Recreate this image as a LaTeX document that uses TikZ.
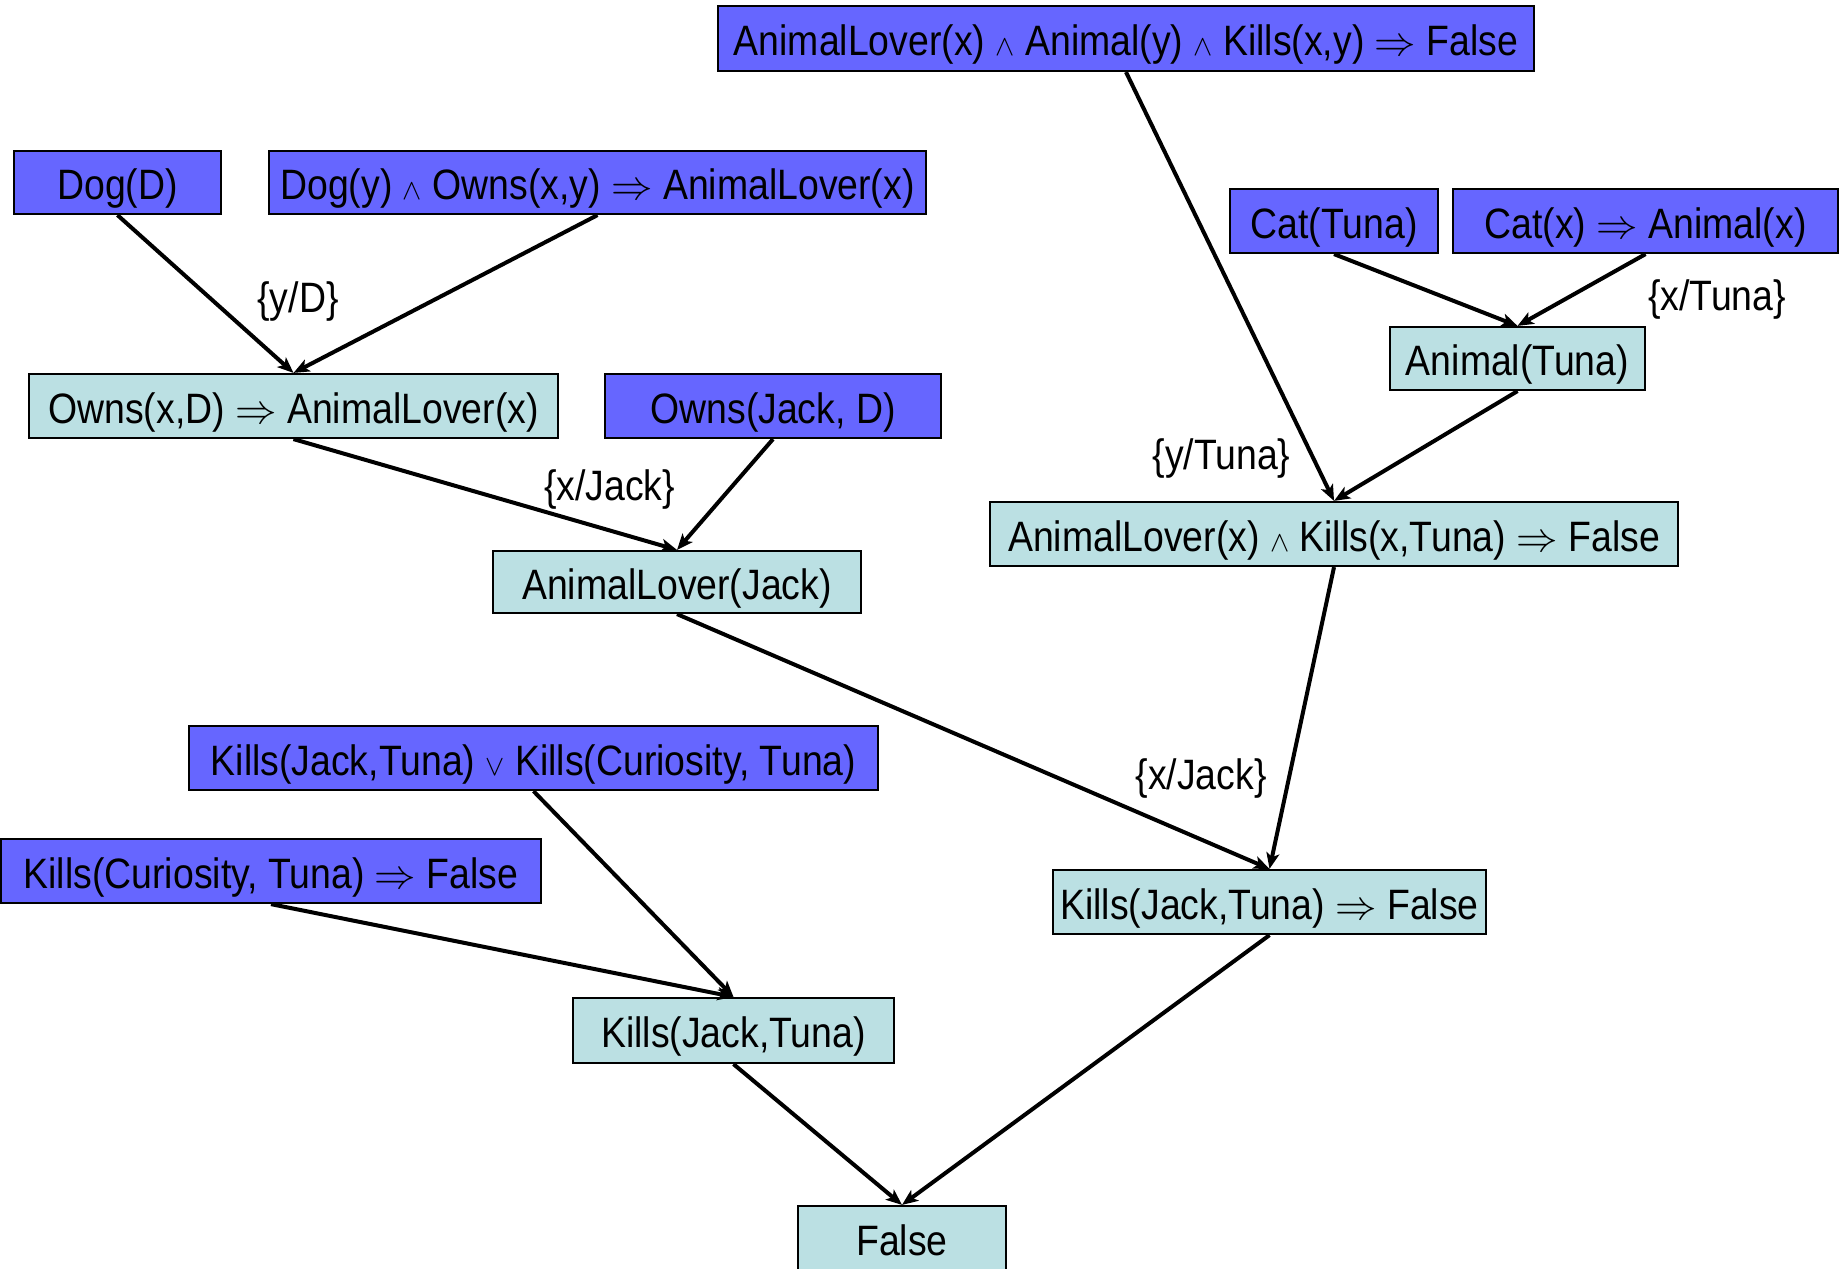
\documentclass[tikz,border=0pt]{standalone}
\usepackage{fontspec}
\setmainfont{Liberation Sans}[FakeStretch=0.88]
\usetikzlibrary{arrows.meta}
\definecolor{premise}{RGB}{102,102,255}
\definecolor{derived}{RGB}{187,224,227}
\newcommand{\lgand}{$\scriptstyle\wedge$}
\newcommand{\lgor}{$\scriptstyle\vee$}
\newcommand{\lgimp}{$\Rightarrow$}
\begin{document}
\begin{tikzpicture}[x=0.5pt,y=-0.5pt,
  txt/.style={font=\fontsize{21.25pt}{25pt}\selectfont},
  box/.style={txt, draw=black, line width=1.1pt, inner sep=0pt, text height=17pt, text depth=0pt},
  sz/.style 2 args={minimum width=#1*0.5pt, minimum height=#2*0.5pt},
  prem/.style={box, fill=premise},
  deriv/.style={box, fill=derived},
  lbl/.style={txt, inner sep=0pt},
  arr/.style={-{Stealth[length=8pt,width=6.5pt,inset=2pt]}, line width=2pt}]
\useasboundingbox (0,0) rectangle (1845,1268);
% premises
\node[prem, sz={816}{65}] (top) at (1126,38.5) {AnimalLover(x) \lgand\ Animal(y) \lgand\ Kills(x,y) \lgimp\ False};
\node[prem, sz={207}{63}] (dog) at (117.5,182.5) {Dog(D)};
\node[prem, sz={657}{63}] (dogrule) at (597.5,182.5) {Dog(y) \lgand\ Owns(x,y) \lgimp\ AnimalLover(x)};
\node[prem, sz={208}{64}] (cat) at (1334,221) {Cat(Tuna)};
\node[prem, sz={385}{64}] (catrule) at (1645.5,221) {Cat(x) \lgimp\ Animal(x)};
\node[prem, sz={336}{64}] (owns) at (773,406) {Owns(Jack, D)};
\node[prem, sz={689}{64}] (killsor) at (533.5,758) {Kills(Jack,Tuna) \lgor\ Kills(Curiosity, Tuna)};
\node[prem, sz={540}{64}] (kcur) at (271,871) {Kills(Curiosity, Tuna) \lgimp\ False};
% derived
\node[deriv, sz={255}{63}] (animal) at (1517.5,358.5) {Animal(Tuna)};
\node[deriv, sz={529}{64}] (ownsrule) at (293.5,406) {Owns(x,D) \lgimp\ AnimalLover(x)};
\node[deriv, sz={688}{64}] (alk) at (1334,534) {AnimalLover(x) \lgand\ Kills(x,Tuna) \lgimp\ False};
\node[deriv, sz={368}{62}] (alj) at (677,582) {AnimalLover(Jack)};
\node[deriv, sz={433}{64}] (kjf) at (1269.5,902) {Kills(Jack,Tuna) \lgimp\ False};
\node[deriv, sz={321}{65}] (kj) at (733.5,1030.5) {Kills(Jack,Tuna)};
\node[deriv, sz={208}{64}] (false) at (902,1238) {False};
% connectors
\draw[arr] (dog.south) -- (ownsrule.north);
\draw[arr] (dogrule.south) -- (ownsrule.north);
\draw[arr] (ownsrule.south) -- (alj.north);
\draw[arr] (owns.south) -- (alj.north);
\draw[arr] (top.south) -- (alk.north);
\draw[arr] (cat.south) -- (animal.north);
\draw[arr] (catrule.south) -- (animal.north);
\draw[arr] (animal.south) -- (alk.north);
\draw[arr] (alj.south) -- (kjf.north);
\draw[arr] (alk.south) -- (kjf.north);
\draw[arr] (killsor.south) -- (kj.north);
\draw[arr] (kcur.south) -- (kj.north);
\draw[arr] (kj.south) -- (false.north);
\draw[arr] (kjf.south) -- (false.north);
% labels
\node[lbl] (l1) at (298,302) {\{y/D\}};
\node[lbl] (l2) at (609.5,490) {\{x/Jack\}};
\node[lbl] (l3) at (1221.5,458.5) {\{y/Tuna\}};
\node[lbl] (l4) at (1717,300) {\{x/Tuna\}};
\node[lbl] (l5) at (1201,779) {\{x/Jack\}};
\end{tikzpicture}
\end{document}
